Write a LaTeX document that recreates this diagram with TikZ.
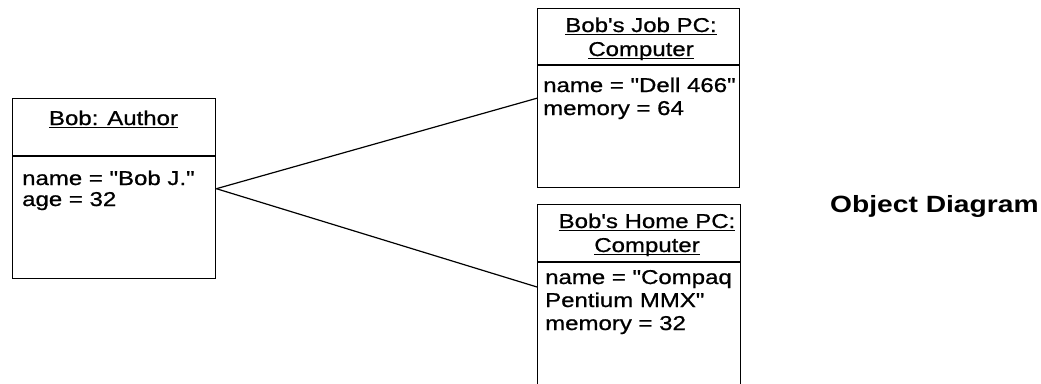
\documentclass[tikz,border=0pt]{standalone}
\usepackage{fontspec}
\setmainfont[FakeStretch=1.2,Ligatures=TeXOff,UprightFeatures={FakeBold=0.8}]{Liberation Sans}
\newcommand{\myul}[1]{\setbox0\hbox{#1}\rlap{\rule[-3pt]{\wd0}{1.4pt}}\box0}
\begin{document}
\begin{tikzpicture}[x=1pt,y=-1pt,
  box/.style={draw, line width=1.4pt, inner sep=0, anchor=north west},
  sep/.style={line width=1.4pt},
  txt/.style={anchor=base west, inner sep=0, font=\fontsize{20}{24}\selectfont},
  ttl/.style={anchor=base, inner sep=0, font=\fontsize{20}{24}\selectfont},
  big/.style={anchor=base west, inner sep=0, font=\fontsize{23.5}{28}\selectfont\bfseries},
  link/.style={line width=1.2pt}]
\useasboundingbox (0,0) rectangle (1041,383);
% Bob: Author
\node[box, minimum width=203pt, minimum height=180pt] (author) at (12,98) {};
\draw[sep] ([yshift=-58pt]author.north west) -- ([yshift=-58pt]author.north east);
\node[ttl] (authorT) at (113.5,125) {\myul{Bob: Author}};
\node[txt] (authorA) at (22,185) {name = "Bob J."};
\node[txt] (authorB) at (22,206) {age = 32};
% Bob's Job PC
\node[box, minimum width=202pt, minimum height=179pt] (job) at (537,8) {};
\draw[sep] ([yshift=-57pt]job.north west) -- ([yshift=-57pt]job.north east);
\node[ttl] (jobT1) at (641,32) {\myul{Bob's Job PC:}};
\node[ttl] (jobT2) at (641,56) {\myul{Computer}};
\node[txt] (jobA) at (543,92) {name = "Dell 466"};
\node[txt] (jobB) at (543,115) {memory = 64};
% Bob's Home PC
\node[box, minimum width=203pt, minimum height=200pt] (home) at (537,204) {};
\draw[sep] ([yshift=-58pt]home.north west) -- ([yshift=-58pt]home.north east);
\node[ttl] (homeT1) at (647,228) {\myul{Bob's Home PC:}};
\node[ttl] (homeT2) at (647,252) {\myul{Computer}};
\node[txt] (homeA) at (545,284) {name = "Compaq};
\node[txt] (homeB) at (545,307) {Pentium MMX"};
\node[txt] (homeC) at (545,330) {memory = 32};
% links
\draw[link] (author.east) -- (job.west);
\draw[link] (author.east) -- ([yshift=-83pt]home.north west);
% caption
\node[big] (caption) at (830,212) {Object Diagram};
\end{tikzpicture}
\end{document}
